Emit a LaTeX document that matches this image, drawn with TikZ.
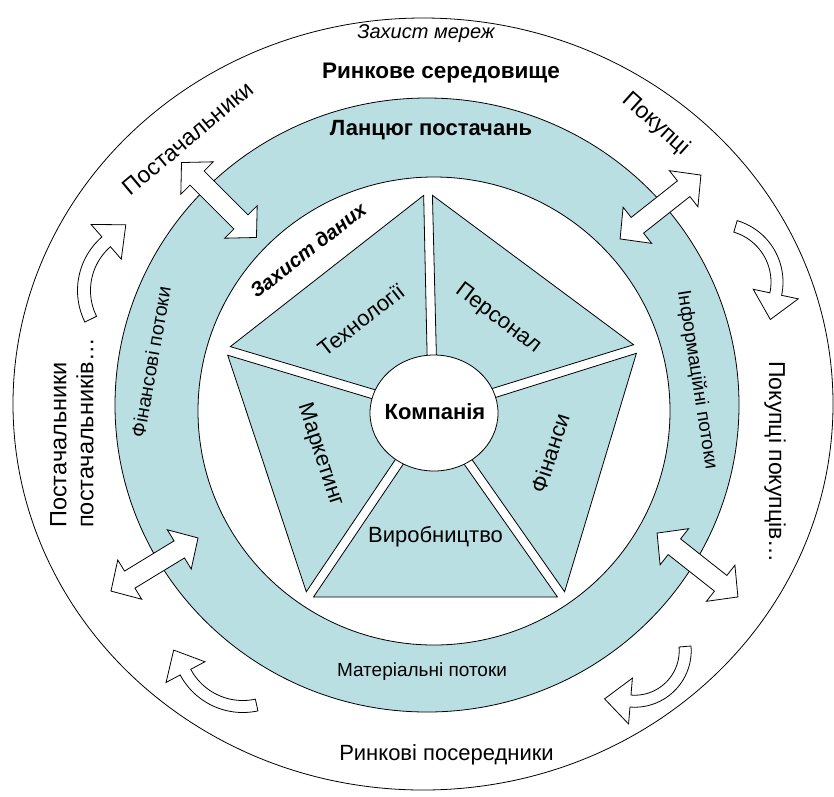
\documentclass[tikz,border=0pt]{standalone}
\usepackage{fontspec}
\setmainfont{Liberation Sans}
\usetikzlibrary{calc}
\definecolor{ringteal}{RGB}{185,223,227}
\newcommand\mydblarrow[4]{%
  \begin{scope}[shift={(#1,#2)},rotate=#3]
    \pgfmathsetmacro\myhalf{#4/2}
    \pgfmathsetmacro\myneck{#4/2-22}
    \draw[arrowline] (-\myhalf,0) -- (-\myneck,23) -- (-\myneck,10) -- (\myneck,10) -- (\myneck,23) -- (\myhalf,0) -- (\myneck,-23) -- (\myneck,-10) -- (-\myneck,-10) -- (-\myneck,-23) -- cycle;
  \end{scope}}
\newcommand\mycurvedarrow[8]{%
  \begin{scope}[shift={(#1,#2)}]
    \pgfmathsetmacro\myrm{(#5+#6)/2}
    \pgfmathsetmacro\mytipang{#4+atan(#8/\myrm)}
    \pgfmathsetmacro\mytiprad{sqrt(\myrm*\myrm+#8*#8)}
    \draw[arrowline] plot[domain=#3:#4, samples=30] (\x:#6) -- (#4:{\myrm+#7}) -- (\mytipang:\mytiprad) -- (#4:{\myrm-#7}) -- (#4:#5) -- plot[domain=#4:#3, samples=30] (\x:#5) -- cycle;
  \end{scope}}
\tikzset{
  outline/.style={draw=black, line width=0.8pt},
  arrowline/.style={draw=black, fill=white, line width=0.8pt},
  piece/.style={draw=black, fill=ringteal, line width=0.8pt},
  lbl/.style={inner sep=0pt, text=black},
}
\begin{document}
\begin{tikzpicture}[x=1pt,y=-1pt]
\useasboundingbox (0,0) rectangle (834,796);
% outer ellipse
\draw[outline, fill=white] (423,404) ellipse [x radius=410pt, y radius=386pt];
% teal ring
\fill[ringteal, even odd rule] (427,405) ellipse [x radius=312pt, y radius=307pt] (434,411) ellipse [x radius=236pt, y radius=234pt];
\draw[outline] (427,405) ellipse [x radius=312pt, y radius=307pt];
\draw[outline] (434,411) ellipse [x radius=236pt, y radius=234pt];
% pentagon pieces
\coordinate (C) at (433,412);
\coordinate (Vt) at (428,192);
\coordinate (Vur) at (638,348);
\coordinate (Vlr) at (563,597);
\coordinate (Vll) at (308,597);
\coordinate (Vul) at (226,350);
\coordinate (M1) at ($(Vul)!0.5!(Vt)$);
\coordinate (M2) at ($(Vt)!0.5!(Vur)$);
\coordinate (M3) at ($(Vur)!0.5!(Vlr)$);
\coordinate (M4) at ($(Vlr)!0.5!(Vll)$);
\coordinate (M5) at ($(Vll)!0.5!(Vul)$);
\draw[piece] ($(Vul)!5.5pt!(Vt)$) -- ($(Vt)!5.5pt!(Vul)$) -- ($(C)!8pt!(M1)$) -- cycle;
\draw[piece] ($(Vt)!5.5pt!(Vur)$) -- ($(Vur)!5.5pt!(Vt)$) -- ($(C)!8pt!(M2)$) -- cycle;
\draw[piece] ($(Vur)!5.5pt!(Vlr)$) -- ($(Vlr)!5.5pt!(Vur)$) -- ($(C)!8pt!(M3)$) -- cycle;
\draw[piece] ($(Vlr)!5.5pt!(Vll)$) -- ($(Vll)!5.5pt!(Vlr)$) -- ($(C)!8pt!(M4)$) -- cycle;
\draw[piece] ($(Vll)!5.5pt!(Vul)$) -- ($(Vul)!5.5pt!(Vll)$) -- ($(C)!8pt!(M5)$) -- cycle;
% company
\draw[outline, fill=white] (434,413) ellipse [x radius=64pt, y radius=58pt];
% double arrows
\mydblarrow{219}{200}{-45}{106}
\mydblarrow{660.5}{207}{38.3}{103}
\mydblarrow{154.5}{564.5}{31.4}{102}
\mydblarrow{697.5}{565}{-38.3}{103}
% curved arrows
\mycurvedarrow{148.5}{290.5}{153.6}{229}{58}{71}{23}{26}
\mycurvedarrow{719}{282}{286.5}{372}{52}{64}{23}{26}
\mycurvedarrow{634.7}{650.7}{-4.8}{94.8}{44.5}{56.5}{23}{26}
\mycurvedarrow{242.8}{641.5}{77.7}{151.9}{59}{71}{22}{25}
% texts
\node[lbl, anchor=base, font=\fontsize{20}{24}\selectfont\itshape] (netsec) at (426,38) {Захист мереж};
\node[lbl, anchor=base, font=\fontsize{22.5}{26}\selectfont\bfseries] (market) at (441,78) {Ринкове середовище};
\node[lbl, anchor=base, font=\fontsize{22}{26}\selectfont\bfseries] (chain) at (431,135) {Ланцюг постачань};
\node[lbl, rotate=40, font=\fontsize{23}{27}\selectfont] (supp) at (188,138) {Постачальники};
\node[lbl, rotate=-42, font=\fontsize{23}{27}\selectfont] (cust) at (656,124) {Покупці};
\node[lbl, rotate=90, align=left, font=\fontsize{23.5}{27}\selectfont] (suppsupp) at (72,433) {Постачальники\\постачальників…};
\node[lbl, rotate=-90, font=\fontsize{23}{27}\selectfont] (custcust) at (775,462) {Покупці покупців…};
\node[lbl, anchor=base, font=\fontsize{22}{26}\selectfont] (interm) at (446.5,760) {Ринкові посередники};
\node[lbl, anchor=base, font=\fontsize{19}{23}\selectfont] (matfl) at (422,676.5) {Матеріальні потоки};
\node[lbl, rotate=80, font=\fontsize{19.5}{23}\selectfont] (finfl) at (151,362) {Фінансові потоки};
\node[lbl, rotate=-81, font=\fontsize{19}{23}\selectfont] (infofl) at (697,380) {Інформаційні потоки};
\node[lbl, rotate=38, font=\fontsize{20}{24}\selectfont\bfseries\itshape] (datasec) at (308,250) {Захист даних};
\node[lbl, rotate=38, font=\fontsize{22}{26}\selectfont] (tech) at (361,320) {Технології};
\node[lbl, rotate=-37, font=\fontsize{22}{26}\selectfont] (staff) at (498,319) {Персонал};
\node[lbl, rotate=-72, font=\fontsize{22}{26}\selectfont] (mark) at (320,455) {Маркетинг};
\node[lbl, rotate=72, font=\fontsize{22}{26}\selectfont] (fin) at (550,453) {Фінанси};
\node[lbl, anchor=base, font=\fontsize{22}{26}\selectfont] (prod) at (435.5,542.5) {Виробництво};
\node[lbl, anchor=base, font=\fontsize{22}{26}\selectfont\bfseries] (comp) at (435,419) {Компанія};
\end{tikzpicture}
\end{document}
